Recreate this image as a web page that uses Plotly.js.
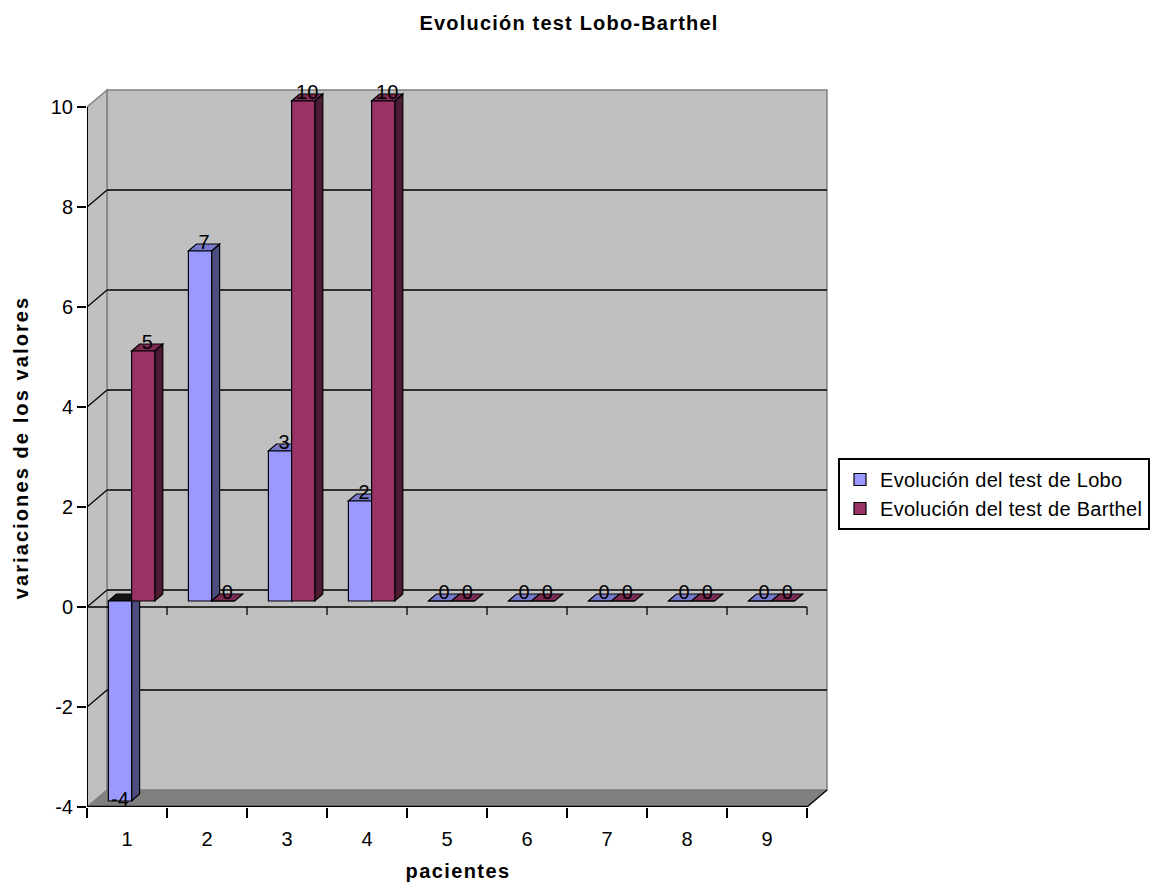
<!DOCTYPE html>
<html>
<head>
<meta charset="utf-8">
<script src="https://cdn.plot.ly/plotly-3.0.1.min.js"></script>
<style>
  html, body { margin: 0; padding: 0; background: #fff; }
  #chart { width: 1156px; height: 883px; }
  .gtitle { letter-spacing: 1.2px; }
  .ytitle { letter-spacing: 2.1px; }
  .xtitle { letter-spacing: 1.4px; }
  .legendtext { letter-spacing: 0.3px; }
</style>
</head>
<body>
<div id="chart"></div>
<script>
// ---- data ----
const categories = [1, 2, 3, 4, 5, 6, 7, 8, 9];
const tickLabels = ['1', '2', '3', '4', '5', '6', '7', '8', '9'];
const seriesNames = ['Evolución del test de Lobo', 'Evolución del test de Barthel'];
const loboValues = [-4, 7, 3, 2, 0, 0, 0, 0, 0];
const barthelValues = [5, 0, 10, 10, 0, 0, 0, 0, 0];
const yTickValues = [-4, -2, 0, 2, 4, 6, 8, 10];

// ---- pseudo-3D styling (axis units) ----
const WALL_DX = 0.25, WALL_DY = 0.34;     // depth of the back wall
const BAR_W = 0.29, BAR_DY = 0.12;        // bar width, bar front-face lift
const SIDE_DX = 0.1, SIDE_DY = 0.14;      // bar depth
const FONT = 'Liberation Sans, Arial, sans-serif';
const FS = 20;

const xMin = categories[0] - 0.5, xMax = categories[categories.length - 1] + 0.5;
const yMin = yTickValues[0], yMax = yTickValues[yTickValues.length - 1];

const shapes = [];
function poly(pts, fill, lineColor, lw) {
  const d = 'M ' + pts.map(p => p[0] + ',' + p[1]).join(' L ') + ' Z';
  shapes.push({type: 'path', xref: 'x', yref: 'y', path: d, layer: 'below',
    fillcolor: fill, line: {color: lineColor, width: lw}});
}
function seg(x0, y0, x1, y1, color, lw) {
  shapes.push({type: 'line', xref: 'x', yref: 'y', x0, y0, x1, y1, layer: 'below',
    line: {color: color, width: lw}});
}

// walls and floor
poly([[xMin + WALL_DX, yMin + WALL_DY], [xMax + WALL_DX, yMin + WALL_DY],
      [xMax + WALL_DX, yMax + WALL_DY], [xMin + WALL_DX, yMax + WALL_DY]], '#C0C0C0', '#808080', 1.5);
poly([[xMin, yMin], [xMin + WALL_DX, yMin + WALL_DY], [xMin + WALL_DX, yMax + WALL_DY], [xMin, yMax]],
     '#C0C0C0', '#808080', 1.5);
poly([[xMin, yMin], [xMax, yMin], [xMax + WALL_DX, yMin + WALL_DY], [xMin + WALL_DX, yMin + WALL_DY]],
     '#808080', '#808080', 1);

// gridlines on back wall and side wall
yTickValues.forEach(v => {
  if (v === yMin || v === yMax) return;
  seg(xMin + WALL_DX, v + WALL_DY, xMax + WALL_DX, v + WALL_DY, '#000', 1.3);
  seg(xMin, v, xMin + WALL_DX, v + WALL_DY, '#000', 1.3);
});
// front axis lines
seg(xMin, yMin, xMin, yMax, '#000', 2);
seg(xMin, yMin, xMax, yMin, '#000', 2.6);
seg(xMax, yMin, xMax + WALL_DX, yMin + WALL_DY, '#000', 1.3);
seg(xMin, 0, xMax, 0, '#000', 1.3);
categories.forEach(c => {
  shapes.push({type: 'line', xref: 'x', yref: 'y', ysizemode: 'pixel', yanchor: 0,
    x0: c + 0.5, x1: c + 0.5, y0: 0, y1: -8, layer: 'below', line: {color: '#000', width: 1.3}});
});

// bar side and top faces
function faces(vals, off, sideColor, topColor) {
  vals.forEach((v, i) => {
    const c = categories[i] + off;
    const xl = c - BAR_W / 2, xr = c + BAR_W / 2;
    const yb = BAR_DY, yt = v + BAR_DY;
    if (v !== 0) {
      poly([[xr, yb], [xr, yt], [xr + SIDE_DX, yt + SIDE_DY], [xr + SIDE_DX, yb + SIDE_DY]], sideColor, '#000', 1.2);
    }
    const ytop = Math.max(yb, yt);
    poly([[xl, ytop], [xr, ytop], [xr + SIDE_DX, ytop + SIDE_DY], [xl + SIDE_DX, ytop + SIDE_DY]],
         v < 0 ? '#141414' : topColor, '#000', 1.2);
  });
}
const LOBO_OFF = -0.0875, BARTHEL_OFF = 0.2025;
faces(loboValues, LOBO_OFF, '#4D4D80', '#7A7ACC');
faces(barthelValues, BARTHEL_OFF, '#4D1A33', '#7A2952');

function barTrace(name, vals, off, color) {
  return {
    type: 'bar', name: name,
    x: categories.map(c => c + off), y: vals, base: vals.map(() => BAR_DY),
    width: BAR_W, marker: {color: color, line: {color: '#000', width: 1.2}},
    hoverinfo: 'skip'
  };
}
function labelTrace(vals, off) {
  return {
    type: 'scatter', mode: 'text', showlegend: false, hoverinfo: 'skip', cliponaxis: false,
    x: vals.map((v, i) => categories[i] + off + (v < 0 ? 0 : SIDE_DX / 2)),
    y: vals.map(v => v < 0 ? v + BAR_DY : v + BAR_DY + SIDE_DY),
    text: vals.map(v => String(v)), textposition: 'middle center',
    textfont: {family: FONT, size: FS, color: '#000'}
  };
}

const data = [
  barTrace(seriesNames[0], loboValues, LOBO_OFF, '#9999FF'),
  barTrace(seriesNames[1], barthelValues, BARTHEL_OFF, '#993366'),
  labelTrace(loboValues, LOBO_OFF),
  labelTrace(barthelValues, BARTHEL_OFF)
];

const layout = {
  width: 1156, height: 883,
  margin: {l: 87, r: 327, t: 88, b: 76},
  paper_bgcolor: '#fff', plot_bgcolor: '#fff',
  font: {family: FONT, size: FS, color: '#000'},
  barmode: 'overlay',
  showlegend: true,
  title: {text: '<b>Evolución test Lobo-Barthel</b>', font: {family: FONT, size: FS, color: '#000'},
          xref: 'container', yref: 'container', x: 569 / 1156, xanchor: 'center', y: 1 - 23 / 883, yanchor: 'middle'},
  xaxis: {
    range: [xMin, xMax + WALL_DX + 0.025], fixedrange: true,
    tickmode: 'array', tickvals: categories, ticktext: tickLabels,
    ticks: 'outside', ticklen: 10, tickcolor: 'rgba(0,0,0,0)', ticklabelstandoff: 4,
    minor: {tickmode: 'array', tickvals: categories.map(c => c - 0.5).concat([xMax]),
            ticks: 'outside', ticklen: 10, tickwidth: 1.3, tickcolor: '#000', showgrid: false},
    showgrid: false, zeroline: false, showline: false,
    tickfont: {family: FONT, size: FS, color: '#000'},
    title: {text: '<b>pacientes</b>', font: {family: FONT, size: FS, color: '#000'}, standoff: 14},
    automargin: false
  },
  yaxis: {
    range: [yMin, yMax + WALL_DY + 0.04], fixedrange: true,
    tickmode: 'array', tickvals: yTickValues, ticktext: yTickValues.map(String),
    ticks: 'outside', ticklen: 9, tickwidth: 1.3, tickcolor: '#000',
    showgrid: false, zeroline: false, showline: false,
    tickfont: {family: FONT, size: FS, color: '#000'},
    title: {text: '<b>variaciones de los valores</b>', font: {family: FONT, size: FS, color: '#000'}, standoff: 16},
    automargin: false
  },
  legend: {
    xref: 'container', yref: 'container',
    x: 838 / 1156, y: 1 - 458 / 883, xanchor: 'left', yanchor: 'top',
    bgcolor: '#fff', bordercolor: '#000', borderwidth: 2, traceorder: 'normal',
    font: {family: FONT, size: FS, color: '#000'}
  },
  shapes: shapes
};

Plotly.newPlot('chart', data, layout, {displayModeBar: false, staticPlot: true});
</script>
</body>
</html>
